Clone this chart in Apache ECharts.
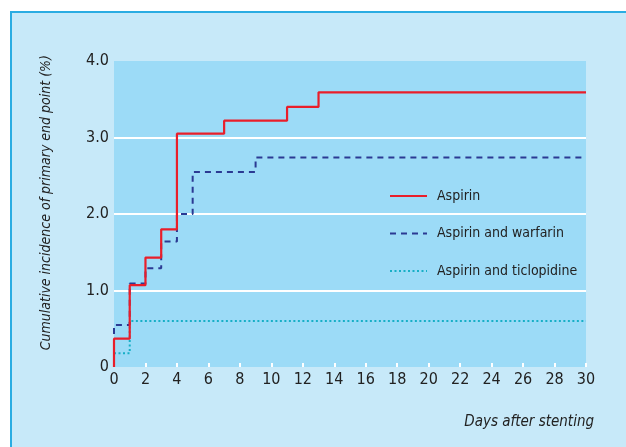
<!DOCTYPE html>
<html>
<head>
<meta charset="utf-8">
<script src="https://cdn.jsdelivr.net/npm/echarts@6/dist/echarts.min.js"></script>
<style>
  html, body { margin: 0; padding: 0; background: #fff; }
  #frame {
    position: absolute; left: 10px; top: 11px; width: 616px; height: 436px;
    background: #c7e9f9; border-top: 2px solid #2aace2; border-left: 2px solid #2aace2;
    box-sizing: border-box;
  }
  #chart { position: absolute; left: 0; top: 0; width: 626px; height: 447px; }
</style>
</head>
<body>
<div id="frame"></div>
<div id="chart"></div>
<script>
// days after stenting / cumulative incidence (%)
const aspirinDays = [0, 0, 1, 2, 3, 4, 7, 11, 13, 30]
const aspirinPct = [0, 0.37, 1.07, 1.43, 1.80, 3.05, 3.22, 3.40, 3.59, 3.59]

const warfarinDays = [0, 0, 1, 2, 3, 4, 5, 9, 30]
const warfarinPct = [0, 0.55, 1.09, 1.29, 1.64, 2.0, 2.55, 2.74, 2.74]

const ticlopidineDays = [0, 1, 30]
const ticlopidinePct = [0.18, 0.60, 0.60]

const seriesNames = ['Aspirin', 'Aspirin and warfarin', 'Aspirin and ticlopidine']

const pairs = (xs, ys) => xs.map((x, i) => [x, ys[i]])

const font = '"DejaVu Sans Condensed", "Roboto", sans-serif'

const chart = echarts.init(document.getElementById('chart'))
chart.setOption({
  backgroundColor: 'transparent',
  animation: false,
  grid: {
    left: 114,
    top: 61,
    right: 40,
    bottom: 80,
    show: true,
    backgroundColor: '#9cdbf7',
    borderWidth: 0
  },
  legend: {
    orient: 'vertical',
    left: 384,
    top: 184,
    itemWidth: 37,
    itemHeight: 14,
    itemGap: 23.5,
    itemStyle: { opacity: 0 },
    textStyle: { color: '#222', fontSize: 14, fontFamily: font, padding: [0, 0, 0, 5] },
    data: seriesNames
  },
  xAxis: {
    type: 'value',
    min: 0,
    max: 30,
    interval: 2,
    axisLine: { show: false },
    axisTick: { show: true, inside: true, length: 4, lineStyle: { color: '#fff', width: 2 } },
    axisLabel: { color: '#222', fontSize: 16, fontFamily: font, margin: 5 },
    splitLine: { show: false }
  },
  yAxis: {
    type: 'value',
    min: 0,
    max: 4,
    interval: 1,
    axisLine: { show: false },
    axisTick: { show: false },
    axisLabel: {
      color: '#222',
      fontSize: 16,
      fontFamily: font,
      margin: 5,
      formatter: v => (v === 0 ? '0' : v.toFixed(1))
    },
    splitLine: {
      show: true,
      lineStyle: { color: ['transparent', '#fff', '#fff', '#fff', 'transparent'], width: 2 }
    }
  },
  graphic: [{
    type: 'text',
    left: 39,
    top: 55,
    rotation: Math.PI / 2,
    style: {
      text: 'Cumulative incidence of primary end point (%)',
      font: 'italic 14px ' + font,
      fill: '#222'
    }
  }, {
    type: 'text',
    right: 32,
    top: 415,
    style: {
      text: 'Days after stenting',
      font: 'italic 15px ' + font,
      fill: '#222'
    }
  }],
  series: [{
    name: seriesNames[2],
    type: 'line',
    step: 'end',
    symbol: 'none',
    z: 2,
    lineStyle: { color: '#17afc6', width: 2, type: [2, 2.5] },
    itemStyle: { color: '#17afc6' },
    data: pairs(ticlopidineDays, ticlopidinePct)
  }, {
    name: seriesNames[1],
    type: 'line',
    step: 'end',
    symbol: 'none',
    z: 3,
    lineStyle: { color: '#2b3a93', width: 2, type: [6, 5] },
    itemStyle: { color: '#2b3a93' },
    data: pairs(warfarinDays, warfarinPct)
  }, {
    name: seriesNames[0],
    type: 'line',
    step: 'end',
    symbol: 'none',
    z: 4,
    lineStyle: { color: '#e91e2a', width: 2.2 },
    itemStyle: { color: '#e91e2a' },
    data: pairs(aspirinDays, aspirinPct)
  }]
})
</script>
</body>
</html>
